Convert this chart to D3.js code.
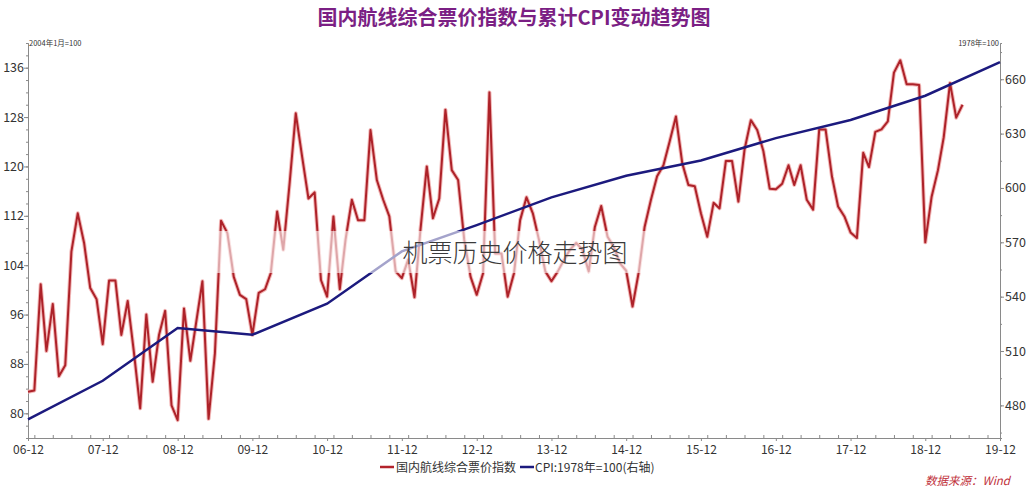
<!DOCTYPE html>
<html>
<head>
<meta charset="utf-8">
<script src="https://cdn.jsdelivr.net/npm/d3@7"></script>
<style>
  body { margin: 0; background: #fff; }
  text { font-family: "Noto Sans CJK SC", "Noto Sans", sans-serif; }
</style>
</head>
<body>
<div class="chart"></div>
<script>
// monthly airfare index, 2006-12 .. 2019-06 (2004年1月=100)
const fareStart = "2006-12";
const fareValues = [
  83.5, 83.7, 100.9, 90.1, 97.7, 86.0, 87.8, 106.2, 112.4, 107.6, 100.3, 98.5,
  91.2, 101.5, 101.5, 92.7, 98.2, 90.0, 80.8, 96.0, 85.1, 92.7, 96.6, 81.3,
  78.9, 97.0, 88.5, 94.6, 101.4, 79.1, 89.7, 111.2, 109.2, 102.1, 99.2, 98.5,
  92.7, 99.5, 100.1, 102.7, 112.7, 106.5, 117.3, 128.6, 121.6, 114.8, 115.8, 101.6,
  98.9, 111.9, 100.1, 108.1, 114.6, 111.3, 111.3, 125.9, 117.8, 114.6, 111.9, 103.0,
  101.9, 104.9, 98.8, 109.7, 120.0, 111.6, 114.8, 129.2, 119.4, 117.8, 108.1, 102.1,
  99.2, 102.7, 132.0, 105.9, 105.9, 98.9, 102.7, 111.3, 115.0, 112.4, 108.1, 103.0,
  101.4, 103.0, 104.9, 106.5, 107.6, 106.5, 103.0, 110.2, 113.6, 108.6, 107.0, 104.3,
  103.1, 97.3, 103.0, 110.2, 114.6, 118.4, 120.2, 124.0, 128.1, 120.5, 117.0, 116.8,
  112.4, 108.6, 114.1, 113.2, 120.9, 120.9, 114.3, 122.7, 127.5, 125.9, 122.5, 116.4,
  116.3, 117.2, 120.2, 117.0, 120.2, 114.6, 113.0, 126.0, 126.0, 118.4, 113.5, 111.9,
  109.3, 108.4, 122.2, 119.9, 125.6, 126.0, 127.3, 135.2, 137.2, 133.3, 133.3, 133.2,
  107.7, 115.1, 119.4, 124.7, 133.5, 127.9, 130.0
];

// cumulative CPI (1978年=100), one point per December
const cpiYears = ["2006-12","2007-12","2008-12","2009-12","2010-12","2011-12","2012-12",
                  "2013-12","2014-12","2015-12","2016-12","2017-12","2018-12","2019-12"];
const cpiValues = [472.3, 493.6, 522.7, 519.0, 536.1, 565.0, 579.5,
                   594.8, 606.7, 615.2, 627.5, 637.5, 650.9, 669.5];

const leftTicks = [80, 88, 96, 104, 112, 120, 128, 136];
const rightTicks = [480, 510, 540, 570, 600, 630, 660];

const margin = ({top: 43, right: 29, bottom: 52, left: 28});
const W = 1029, H = 490;
const width = W - margin.left - margin.right, height = H - margin.top - margin.bottom;

const parse = d3.timeParse("%Y-%m");
const t0 = parse(fareStart);
const fare = fareValues.map((v, i) => ({date: d3.timeMonth.offset(t0, i), value: v}));
const cpi = cpiYears.map((d, i) => ({date: parse(d), value: cpiValues[i]}));

const svg = d3.select(".chart").append("svg")
  .attr("width", W).attr("height", H);

const g = svg.append("g").attr("transform", `translate(${margin.left},${margin.top})`);

const x = d3.scaleTime().domain([parse("2006-12"), parse("2019-12")]).range([0, width]);
const yL = d3.scaleLinear().domain([76, 140]).range([height, 0]);
const yR = d3.scaleLinear().domain([462, 680]).range([height, 0]);

const axisColor = "#8a8a8a";
const labelColor = "#333";

// title
svg.append("text")
  .attr("x", 514).attr("y", 25)
  .attr("text-anchor", "middle")
  .attr("font-size", 20).attr("font-weight", "bold")
  .attr("fill", "#7b1f84")
  .text("国内航线综合票价指数与累计CPI变动趋势图");

// unit labels
svg.append("text").attr("x", margin.left + 1).attr("y", 46)
  .attr("font-size", 7.5).attr("fill", "#333").text("2004年1月=100");
svg.append("text").attr("x", margin.left + width - 1).attr("y", 46)
  .attr("text-anchor", "end")
  .attr("font-size", 7.5).attr("fill", "#333").text("1978年=100");

// axes
const styleAxis = sel => {
  sel.select(".domain").attr("stroke", axisColor);
  sel.selectAll(".tick line").attr("stroke", axisColor);
  sel.selectAll(".tick text").attr("fill", labelColor).attr("font-size", 12.5);
};

const minorL = d3.range(76, 141, 2);
g.append("g").call(d3.axisLeft(yL).tickValues(minorL).tickSize(2).tickFormat(""))
  .call(styleAxis);
g.append("g").call(d3.axisLeft(yL).tickValues(leftTicks).tickSize(4).tickSizeOuter(0))
  .call(styleAxis)
  .call(s => s.selectAll(".tick text").attr("x", -4));

const minorR = d3.range(465, 680, 15);
g.append("g").attr("transform", `translate(${width},0)`)
  .call(d3.axisRight(yR).tickValues(minorR).tickSize(2).tickFormat(""))
  .call(styleAxis);
g.append("g").attr("transform", `translate(${width},0)`)
  .call(d3.axisRight(yR).tickValues(rightTicks).tickSize(4).tickSizeOuter(0))
  .call(styleAxis)
  .call(s => s.selectAll(".tick text").attr("x", 5));

const minorX = d3.timeMonth.every(3).range(parse("2006-12"), d3.timeMonth.offset(parse("2019-12"), 1));
g.append("g").attr("transform", `translate(0,${height})`)
  .call(d3.axisBottom(x).tickValues(minorX).tickSize(-3).tickFormat("").tickSizeOuter(0))
  .call(styleAxis);
g.append("g").attr("transform", `translate(0,${height})`)
  .call(d3.axisBottom(x).tickValues(cpiYears.map(parse)).tickSize(3)
        .tickFormat(d3.timeFormat("%y-%m")).tickSizeOuter(0))
  .call(styleAxis)
  .call(s => s.selectAll(".tick text").attr("y", 7).attr("font-size", 12));

// lines
const fareLine = d3.line().x(d => x(d.date)).y(d => yL(d.value));
const cpiLine = d3.line().x(d => x(d.date)).y(d => yR(d.value));

g.append("path").datum(fare)
  .attr("fill", "none").attr("stroke", "#f2b8b8").attr("stroke-width", 4)
  .attr("stroke-linejoin", "round").attr("d", fareLine);
g.append("path").datum(fare)
  .attr("fill", "none").attr("stroke", "#ad2229").attr("stroke-width", 2)
  .attr("stroke-linejoin", "round").attr("d", fareLine);

g.append("path").datum(cpi)
  .attr("fill", "none").attr("stroke", "#1c1a7e").attr("stroke-width", 2.5)
  .attr("d", cpiLine);

// watermark
svg.append("rect")
  .attr("x", 215).attr("y", 231).attr("width", 455).attr("height", 42)
  .attr("fill", "#fff").attr("opacity", 0.6);
svg.append("text")
  .attr("x", 515).attr("y", 262)
  .attr("text-anchor", "middle")
  .attr("font-size", 25).attr("font-weight", 300)
  .attr("fill", "#3a3a3a")
  .text("机票历史价格走势图");

// legend
const legend = svg.append("g").attr("transform", "translate(380,467)");
legend.append("line").attr("x1", 0).attr("x2", 14).attr("y1", 0).attr("y2", 0)
  .attr("stroke", "#b3232b").attr("stroke-width", 2.5);
legend.append("text").attr("x", 16).attr("y", 4.5).attr("font-size", 12).attr("fill", labelColor)
  .text("国内航线综合票价指数");
legend.append("line").attr("x1", 140).attr("x2", 154).attr("y1", 0).attr("y2", 0)
  .attr("stroke", "#1c1a7e").attr("stroke-width", 2.5);
legend.append("text").attr("x", 155).attr("y", 4.5).attr("font-size", 12).attr("fill", labelColor)
  .text("CPI:1978年=100(右轴)");

// source
svg.append("text")
  .attr("x", 1010).attr("y", 485)
  .attr("text-anchor", "end")
  .attr("font-size", 11.5).attr("font-style", "italic")
  .attr("fill", "#c0303a")
  .text("数据来源：Wind");
</script>
</body>
</html>
